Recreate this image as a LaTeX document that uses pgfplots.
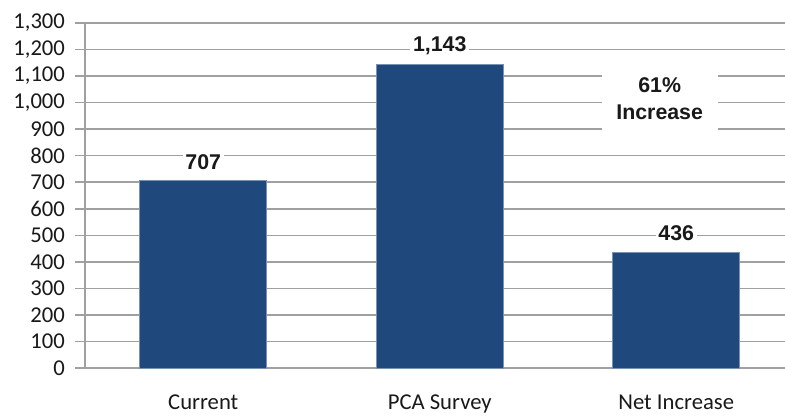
\documentclass[border=0pt]{standalone}
\usepackage{pgfplots}
\pgfplotsset{compat=1.18}
\usepackage{fontspec}
\setmainfont{Carlito}
\newfontfamily\lab{Liberation Sans}
\definecolor{barblue}{RGB}{31,73,125}
\definecolor{gridgray}{RGB}{160,160,160}
\begin{document}
\begin{tikzpicture}
\begin{axis}[
  name=ax,
  scale only axis,
  width=525pt, height=258.75pt,
  xmin=-0.5, xmax=2.46,
  ymin=0, ymax=1300,
  ytick={0,100,...,1300},
  xtick={0,1,2},
  xticklabels={Current, PCA Survey, Net Increase},
  major x tick style={draw=none},
  extra x ticks={0.5,1.5},
  extra x tick labels={},
  extra x tick style={major tick length=5pt, tick style={gridgray, line width=1pt}, grid=none},
  axis x line*=bottom, axis y line*=left,
  axis line style={gridgray, line width=1.2pt, -},
  y axis line style={line width=1pt},
  tick style={gridgray, line width=1.2pt},
  tick align=outside,
  major tick length=7.5pt,
  ymajorgrids,
  major grid style={gridgray, line width=1.2pt},
  /pgf/number format/.cd, 1000 sep={,}, assume math mode=true, /pgfplots/.cd,
  ticklabel style={font=\fontsize{17}{20}\selectfont, text=black!90},
  yticklabel style={xshift=-4pt},
  xticklabel style={yshift=-9pt},
  ybar, bar width=95.25pt,
  nodes near coords,
  every node near coord/.append style={font=\lab\bfseries\fontsize{16}{18}\selectfont, fill=white, inner sep=2pt, anchor=center, yshift=14pt, text=black!90},
  clip=false,
]
\addplot[fill=barblue, draw=barblue!60!white, line width=0.6pt] coordinates {(0,707) (1,1143) (2,436)};
\node[fill=white, align=center, font=\lab\bfseries\fontsize{16}{20}\selectfont, minimum width=87pt, minimum height=60pt, inner sep=0pt, text=black!90] at (axis cs:1.93,1015) {61\%\\Increase};
\end{axis}
\pgfresetboundingbox
\path ([xshift=-63.75pt, yshift=-36pt]ax.south west) rectangle ([yshift=17.25pt]ax.north east);
\end{tikzpicture}
\end{document}
